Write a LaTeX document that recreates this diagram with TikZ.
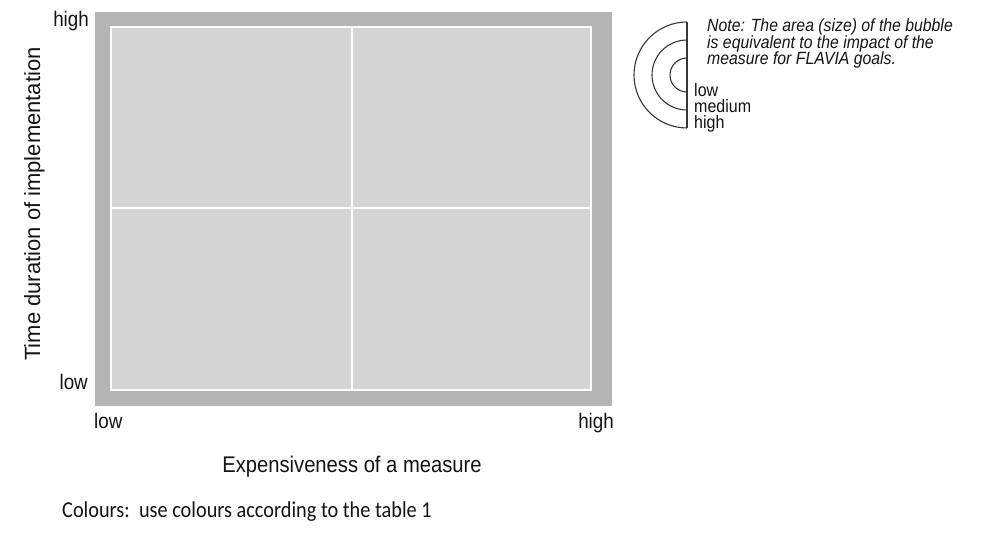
\documentclass[tikz,border=0pt]{standalone}
\usepackage{graphicx}
\usepackage{fontspec}
\setmainfont{Liberation Sans}
\newfontfamily\calfont{Carlito}
\definecolor{outergray}{HTML}{B4B4B4}
\definecolor{innergray}{HTML}{D4D4D4}
\definecolor{ink}{HTML}{141414}
\newcommand{\vstretch}[1]{\scalebox{1}[1.12]{#1}}
\begin{document}
\begin{tikzpicture}[x=1pt,y=-1pt,
  txt/.style={inner sep=0pt, text=ink},
  tick/.style={txt, font=\fontsize{18.8}{22}\selectfont},
  axis/.style={txt, font=\fontsize{20.2}{24}\selectfont},
  note/.style={txt, font=\fontsize{15.8}{16.5}\selectfont\itshape},
  leg/.style={txt, font=\fontsize{16}{16}\selectfont},
  arcline/.style={draw=ink!85, line width=1.1pt},
  grid/.style={draw=white, line width=2pt}]
\useasboundingbox (0,0) rectangle (982,537);
\fill[white] (0,0) rectangle (982,537);
% chart frame
\fill[outergray] (95,12) rectangle (612,406);
\fill[innergray] (111,27) rectangle (591,390);
\draw[grid] (111,27) rectangle (591,390);
\draw[grid] (352,27) -- (352,390);
\draw[grid] (111,208) -- (591,208);
% tick labels
\node[tick, anchor=base east] (yhigh) at (89,27) {\vstretch{high}};
\node[tick, anchor=base east] (ylow) at (88,389) {\vstretch{low}};
\node[tick, anchor=base west] (xlow) at (94,428) {\vstretch{low}};
\node[tick, anchor=base east] (xhigh) at (614,428) {\vstretch{high}};
% axis titles
\node[axis, anchor=base] (xtitle) at (352,472) {\vstretch{Expensiveness of a measure}};
\node[txt, font=\fontsize{22}{24}\selectfont, rotate=90, anchor=base] (ytitle) at (40,204) {Time duration of implementation};
% colours note
\node[txt, font=\fontsize{20.3}{24}\calfont, anchor=base west] (colours) at (62,517) {\vstretch{Colours:\ \ use colours according to the table 1}};
% legend bubbles
\coordinate (c) at (687,75);
\draw[arcline] (687,22) -- (687,128);
\draw[arcline] (c) ++(0,-17) arc[start angle=-90, end angle=-270, radius=17];
\draw[arcline] (c) ++(0,-35) arc[start angle=-90, end angle=-270, radius=35];
\draw[arcline] (c) ++(0,-53) arc[start angle=-90, end angle=-270, radius=53];
\node[leg, anchor=base west] (llow) at (694,97) {\vstretch{low}};
\node[leg, anchor=base west] (lmed) at (694,113) {\vstretch{medium}};
\node[leg, anchor=base west] (lhigh) at (694,129) {\vstretch{high}};
\node[note, anchor=base west] (n1) at (707,32) {\vstretch{Note: The area (size) of the bubble}};
\node[note, anchor=base west] (n2) at (707,48.5) {\vstretch{is equivalent to the impact of the}};
\node[note, anchor=base west] (n3) at (707,65) {\vstretch{measure for FLAVIA goals.}};
\end{tikzpicture}
\end{document}
